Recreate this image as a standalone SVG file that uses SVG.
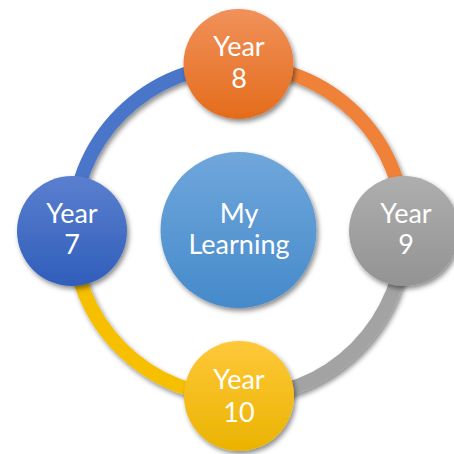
<svg xmlns="http://www.w3.org/2000/svg" width="454" height="454" viewBox="0 0 454 454">
  <defs>
    <filter id="sh" x="-30%" y="-30%" width="160%" height="160%">
      <feDropShadow dx="2" dy="3" stdDeviation="2.5" flood-color="#000" flood-opacity="0.45"/>
    </filter>
    <linearGradient id="gOrange" x1="0" y1="0" x2="0" y2="1">
      <stop offset="0" stop-color="#F1915A"/>
      <stop offset="1" stop-color="#E46C1C"/>
    </linearGradient>
    <linearGradient id="gBlue" x1="0" y1="0" x2="0" y2="1">
      <stop offset="0" stop-color="#5B7FCF"/>
      <stop offset="1" stop-color="#2F5EBA"/>
    </linearGradient>
    <linearGradient id="gGray" x1="0" y1="0" x2="0" y2="1">
      <stop offset="0" stop-color="#AEAEAE"/>
      <stop offset="1" stop-color="#939393"/>
    </linearGradient>
    <linearGradient id="gGold" x1="0" y1="0" x2="0" y2="1">
      <stop offset="0" stop-color="#FFC83A"/>
      <stop offset="1" stop-color="#EAB300"/>
    </linearGradient>
    <linearGradient id="gCenter" x1="0" y1="0" x2="0" y2="1">
      <stop offset="0" stop-color="#70A7DB"/>
      <stop offset="1" stop-color="#458ACB"/>
    </linearGradient>
  </defs>
  <style>
    .arc { fill: none; stroke-width: 14; filter: url(#sh); }
    .node { filter: url(#sh); }
    .lbl { font-family: Lato, "Liberation Sans", sans-serif; font-size: 27px; fill: #FFFFFF; text-anchor: middle; }
  </style>
  <rect width="454" height="454" fill="#FFFFFF"/>
  <g id="connectors">
    <path class="arc" stroke="#4A76C8" d="M 72.5 231 A 166 166 0 0 1 238.5 65"/>
    <path class="arc" stroke="#EF8238" d="M 238.5 65 A 166 166 0 0 1 404.5 231"/>
    <path class="arc" stroke="#A3A3A3" d="M 404.5 231 A 166 166 0 0 1 238.5 397"/>
    <path class="arc" stroke="#F6C000" d="M 238.5 397 A 166 166 0 0 1 72.5 231"/>
  </g>
  <g id="center">
    <circle class="node" cx="238.5" cy="230" r="78" fill="url(#gCenter)"/>
    <text class="lbl" x="239" y="223">My</text>
    <text class="lbl" x="239" y="254">Learning</text>
  </g>
  <g id="year8">
    <circle class="node" cx="238.5" cy="64" r="55" fill="url(#gOrange)"/>
    <text class="lbl" x="239" y="56">Year</text>
    <text class="lbl" x="239" y="88">8</text>
  </g>
  <g id="year7">
    <circle class="node" cx="72" cy="231" r="55" fill="url(#gBlue)"/>
    <text class="lbl" x="72" y="223">Year</text>
    <text class="lbl" x="72" y="254">7</text>
  </g>
  <g id="year9">
    <circle class="node" cx="404" cy="231" r="55" fill="url(#gGray)"/>
    <text class="lbl" x="406" y="223">Year</text>
    <text class="lbl" x="406" y="254">9</text>
  </g>
  <g id="year10">
    <circle class="node" cx="239" cy="396" r="55" fill="url(#gGold)"/>
    <text class="lbl" x="239" y="389">Year</text>
    <text class="lbl" x="239" y="422">10</text>
  </g>
</svg>
